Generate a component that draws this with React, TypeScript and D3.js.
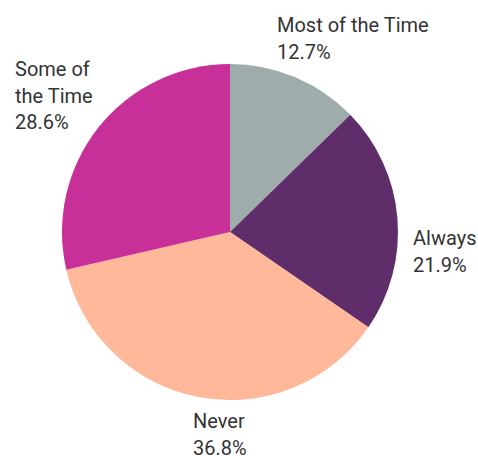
import * as d3 from 'd3';

const categories = ['Most of the Time', 'Always', 'Never', 'Some of the Time'];
const shares = [12.7, 21.9, 36.8, 28.6];
const colors = ['#9eadab', '#5f2d69', '#ffb899', '#c83099'];

// label lines and anchor points are layout, kept apart from the data
const labelLines = [
  ['Most of the Time', '12.7%'],
  ['Always', '21.9%'],
  ['Never', '36.8%'],
  ['Some of', 'the Time', '28.6%'],
];
const labelPos = [
  { x: 277, y: 32 },
  { x: 413, y: 245 },
  { x: 193, y: 428 },
  { x: 15, y: 76 },
];

const width = 478;
const height = 456;
const cx = 230;
const cy = 232;
const radius = 168;
const lineHeight = 26.5;

export default function App() {
  const pie = d3
    .pie<number>()
    .sort(null)
    .value((d) => d);
  const arcs = pie(shares);
  const arc = d3.arc<d3.PieArcDatum<number>>().innerRadius(0).outerRadius(radius);

  return (
    <svg
      width={width}
      height={height}
      style={{ position: 'absolute', left: 0, top: 0, background: '#fff' }}
      fontFamily="Roboto, 'Noto Sans', sans-serif"
    >
      <g transform={`translate(${cx},${cy})`}>
        {arcs.map((a, i) => (
          <path key={categories[i]} d={arc(a) ?? ''} fill={colors[i]} />
        ))}
      </g>
      {labelLines.map((lines, i) => (
        <text key={categories[i]} x={labelPos[i].x} y={labelPos[i].y} fontSize={20} fill="#333">
          {lines.map((line, j) => (
            <tspan key={j} x={labelPos[i].x} dy={j === 0 ? 0 : lineHeight}>
              {line}
            </tspan>
          ))}
        </text>
      ))}
    </svg>
  );
}
